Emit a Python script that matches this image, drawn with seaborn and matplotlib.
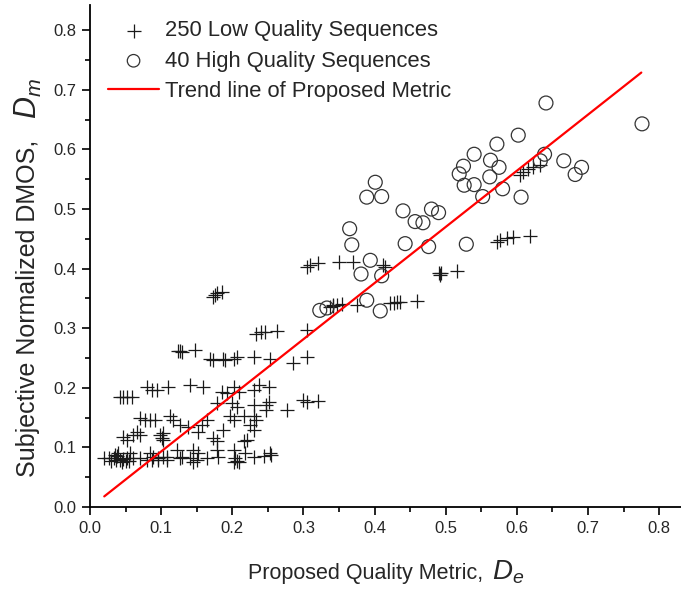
import matplotlib
matplotlib.use('Agg')
import matplotlib.pyplot as plt
from matplotlib.ticker import MultipleLocator
import numpy as np
import seaborn as sns

# 250 low quality sequences (many overlap)
low_x = [0.305, 0.309, 0.321, 0.350, 0.370, 0.412, 0.415,
         0.173, 0.175, 0.178, 0.185,
         0.234, 0.240, 0.246, 0.263, 0.305,
         0.338, 0.342, 0.347, 0.354, 0.375, 0.342,
         0.422, 0.427, 0.431, 0.436, 0.459,
         0.124, 0.127, 0.130, 0.148,
         0.169, 0.173, 0.187, 0.190, 0.202, 0.206, 0.230, 0.253, 0.286, 0.305,
         0.490, 0.492, 0.494, 0.516,
         0.572, 0.577, 0.586, 0.595, 0.619,
         0.605, 0.609, 0.616, 0.623, 0.633,
         0.042, 0.047, 0.052, 0.059,
         0.080, 0.087, 0.094, 0.110, 0.141, 0.159, 0.185, 0.192, 0.202, 0.209,
         0.230, 0.237, 0.251,
         0.300, 0.305, 0.321, 0.251, 0.248, 0.178, 0.199, 0.206, 0.230,
         0.070, 0.077, 0.084, 0.091, 0.113, 0.117, 0.127, 0.103, 0.101, 0.138,
         0.152, 0.164, 0.157, 0.197, 0.202, 0.216, 0.230, 0.234, 0.248, 0.277,
         0.225, 0.230, 0.187,
         0.066, 0.070, 0.047, 0.052, 0.061, 0.098, 0.103, 0.173, 0.178, 0.220,
         0.216,
         0.122, 0.129, 0.145, 0.152, 0.178, 0.180, 0.202, 0.204, 0.209, 0.218,
         0.230, 0.253, 0.084, 0.089, 0.096, 0.103, 0.108, 0.127, 0.141, 0.145,
         0.150, 0.164,
         0.019, 0.026, 0.033, 0.035, 0.037, 0.042, 0.047, 0.052, 0.056, 0.061,
         0.070, 0.080, 0.087, 0.096, 0.108, 0.202, 0.206,
         0.040, 0.045, 0.050, 0.038, 0.055, 0.030, 0.245, 0.255]
low_y = [0.403, 0.406, 0.409, 0.412, 0.412, 0.406, 0.403,
         0.352, 0.356, 0.359, 0.361,
         0.291, 0.293, 0.294, 0.295, 0.297,
         0.336, 0.337, 0.339, 0.341, 0.339, 0.339,
         0.342, 0.343, 0.344, 0.344, 0.346,
         0.261, 0.261, 0.260, 0.263,
         0.248, 0.247, 0.249, 0.246, 0.249, 0.251, 0.251, 0.249, 0.241, 0.252,
         0.392, 0.389, 0.393, 0.396,
         0.445, 0.448, 0.451, 0.453, 0.454,
         0.557, 0.563, 0.567, 0.570, 0.574,
         0.185, 0.185, 0.185, 0.185,
         0.202, 0.196, 0.197, 0.201, 0.205, 0.201, 0.193, 0.191, 0.201, 0.193,
         0.196, 0.205, 0.201,
         0.180, 0.177, 0.178, 0.177, 0.171, 0.174, 0.174, 0.168, 0.171,
         0.149, 0.146, 0.146, 0.146, 0.152, 0.146, 0.138, 0.124, 0.115, 0.135,
         0.126, 0.146, 0.138, 0.152, 0.146, 0.152, 0.152, 0.146, 0.163, 0.163,
         0.138, 0.129, 0.129,
         0.126, 0.121, 0.118, 0.112, 0.121, 0.121, 0.112, 0.115, 0.110, 0.112,
         0.110,
         0.096, 0.084, 0.096, 0.090, 0.096, 0.084, 0.096, 0.082, 0.076, 0.090,
         0.084, 0.090, 0.090, 0.084, 0.079, 0.084, 0.084, 0.082, 0.082, 0.076,
         0.079, 0.082,
         0.082, 0.082, 0.082, 0.087, 0.079, 0.079, 0.080, 0.082, 0.090, 0.082,
         0.082, 0.079, 0.079, 0.082, 0.079, 0.076, 0.078,
         0.090, 0.075, 0.077, 0.085, 0.078, 0.078, 0.085, 0.088]

# 40 high quality sequences
high_x = [0.641, 0.776, 0.602, 0.572, 0.540, 0.525, 0.519, 0.526, 0.540, 0.563,
          0.575, 0.562, 0.552, 0.580, 0.606, 0.639, 0.633, 0.666, 0.691, 0.682,
          0.401, 0.389, 0.410, 0.440, 0.457, 0.468, 0.480, 0.490, 0.365, 0.368,
          0.443, 0.476, 0.529, 0.394, 0.381, 0.410, 0.389, 0.408, 0.323, 0.333]
high_y = [0.678, 0.643, 0.624, 0.609, 0.592, 0.572, 0.559, 0.540, 0.541, 0.582,
          0.570, 0.554, 0.521, 0.534, 0.520, 0.592, 0.581, 0.581, 0.570, 0.558,
          0.545, 0.520, 0.521, 0.497, 0.479, 0.477, 0.500, 0.494, 0.467, 0.440,
          0.442, 0.437, 0.441, 0.414, 0.391, 0.388, 0.347, 0.329, 0.330, 0.334]

# trend line of the proposed metric
trend_x = np.array([0.02, 0.775])
trend_slope = 0.942
trend_intercept = -0.001

ticks = [0.0, 0.1, 0.2, 0.3, 0.4, 0.5, 0.6, 0.7, 0.8]
tick_labels = ['0.0', '0.1', '0.2', '0.3', '0.4', '0.5', '0.6', '0.7', '0.8']

sns.set_style('ticks')
plt.rcParams['font.family'] = ['Liberation Sans', 'DejaVu Sans']
plt.rcParams['mathtext.fontset'] = 'custom'
plt.rcParams['mathtext.rm'] = 'Liberation Sans'
plt.rcParams['mathtext.it'] = 'Liberation Sans:italic'

fig = plt.figure(figsize=(6.81, 5.91), dpi=100)
ax = fig.add_axes([0.1322, 0.1421, 0.868, 0.849])

sns.scatterplot(x=low_x, y=low_y, marker='+', s=115, color='#1a1a1a',
                linewidth=0.9, label='250 Low Quality Sequences', ax=ax)
sns.scatterplot(x=high_x, y=high_y, marker='o', s=100, facecolor='none',
                edgecolor='#333333', linewidth=0.9,
                label='40 High Quality Sequences', ax=ax)
sns.lineplot(x=trend_x, y=trend_intercept + trend_slope * trend_x, color='#ff0000',
             linewidth=1.6, label='Trend line of Proposed Metric', ax=ax)

ax.set_xlim(0, 0.831)
ax.set_ylim(0, 0.842)
ax.set_xticks(ticks)
ax.set_xticklabels(tick_labels)
ax.set_yticks(ticks)
ax.set_yticklabels(tick_labels)
ax.xaxis.set_minor_locator(MultipleLocator(0.05))
ax.yaxis.set_minor_locator(MultipleLocator(0.05))
ax.tick_params(which='major', direction='out', length=6, width=1.2,
               labelsize=12, color='black', pad=4)
ax.tick_params(which='minor', direction='out', length=3.5, width=1.2, color='black')
for side in ['top', 'right']:
    ax.spines[side].set_visible(False)
for side in ['left', 'bottom']:
    ax.spines[side].set_linewidth(1.3)
    ax.spines[side].set_color('black')

ax.legend(loc='upper left', bbox_to_anchor=(0.03, 0.970), frameon=False,
          fontsize=15.8, handlelength=2.35, handletextpad=0.25, labelspacing=0.42,
          markerscale=0.9, borderpad=0, borderaxespad=0)

# axis labels, the symbol is drawn a bit larger than the words
fig.text(0.709, 0.020, 'Proposed Quality Metric,', fontsize=15.5,
         ha='right', va='baseline')
fig.text(0.722, 0.020, r'$D_e$', fontsize=20, ha='left', va='baseline')
fig.text(0.041, 0.478, 'Subjective Normalized DMOS,', fontsize=18,
         rotation=90, ha='center', va='center')
fig.text(0.042, 0.834, r'$D_m$', fontsize=22, rotation=90,
         ha='center', va='center')

fig.savefig('out.png', dpi=100)
